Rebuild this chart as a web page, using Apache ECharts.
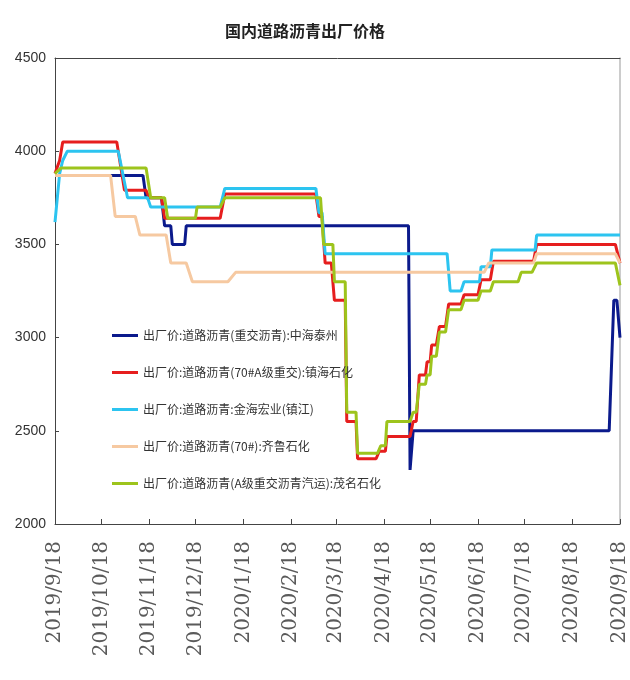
<!DOCTYPE html>
<html>
<head>
<meta charset="utf-8">
<script src="https://cdn.jsdelivr.net/npm/echarts@6/dist/echarts.min.js"></script>
<style>
  html, body { margin: 0; padding: 0; background: #ffffff; }
  #chart { width: 630px; height: 680px; }
</style>
</head>
<body>
<div id="chart"></div>
<script>
// Monthly tick dates on the date axis
const tickDates = [
  '2019-09-18', '2019-10-18', '2019-11-18', '2019-12-18', '2020-01-18',
  '2020-02-18', '2020-03-18', '2020-04-18', '2020-05-18', '2020-06-18',
  '2020-07-18', '2020-08-18', '2020-09-18'
];

const yTicks = [2000, 2500, 3000, 3500, 4000, 4500];

const seriesNames = [
  '出厂价:道路沥青(重交沥青):中海泰州',
  '出厂价:道路沥青(70#A级重交):镇海石化',
  '出厂价:道路沥青:金海宏业(镇江)',
  '出厂价:道路沥青(70#):齐鲁石化',
  '出厂价:道路沥青(A级重交沥青汽运):茂名石化'
];

// Ex-factory prices, yuan/ton: [date, price] at each price change
const zhonghaiTaizhou = [
  ['2019-09-18', 3870], ['2019-11-14', 3870], ['2019-11-16', 3750], ['2019-11-26', 3750],
  ['2019-11-28', 3600], ['2019-12-02', 3600], ['2019-12-03', 3500], ['2019-12-11', 3500],
  ['2019-12-12', 3600], ['2020-05-04', 3600], ['2020-05-05', 2290], ['2020-05-07', 2500],
  ['2020-09-11', 2500], ['2020-09-14', 3200], ['2020-09-16', 3200], ['2020-09-18', 3000]
];

const zhenhaiShihua = [
  ['2019-09-18', 3880], ['2019-09-21', 3950], ['2019-09-23', 4050], ['2019-10-28', 4050],
  ['2019-11-02', 3790], ['2019-11-16', 3790], ['2019-11-18', 3750], ['2019-11-26', 3750],
  ['2019-11-28', 3640], ['2020-01-03', 3640], ['2020-01-06', 3770], ['2020-03-05', 3770],
  ['2020-03-07', 3650], ['2020-03-09', 3650], ['2020-03-11', 3400], ['2020-03-15', 3400],
  ['2020-03-17', 3200], ['2020-03-24', 3200], ['2020-03-25', 2550], ['2020-03-31', 2550],
  ['2020-04-01', 2350], ['2020-04-13', 2350], ['2020-04-15', 2390], ['2020-04-19', 2390],
  ['2020-04-20', 2470], ['2020-05-05', 2470], ['2020-05-07', 2550], ['2020-05-09', 2550],
  ['2020-05-11', 2800], ['2020-05-15', 2800], ['2020-05-16', 2870], ['2020-05-18', 2870],
  ['2020-05-19', 2960], ['2020-05-22', 2960], ['2020-05-24', 3060], ['2020-05-28', 3060],
  ['2020-05-30', 3180], ['2020-06-07', 3180], ['2020-06-09', 3230], ['2020-06-18', 3230],
  ['2020-06-20', 3310], ['2020-06-26', 3310], ['2020-06-28', 3410], ['2020-07-24', 3410],
  ['2020-07-26', 3500], ['2020-09-15', 3500], ['2020-09-18', 3400]
];

const jinhaiHongye = [
  ['2019-09-18', 3620], ['2019-09-21', 3880], ['2019-09-23', 3950], ['2019-09-26', 4000],
  ['2019-10-29', 4000], ['2019-11-04', 3750], ['2019-11-17', 3750], ['2019-11-19', 3700],
  ['2020-01-03', 3700], ['2020-01-06', 3800], ['2020-03-05', 3800], ['2020-03-07', 3670],
  ['2020-03-09', 3670], ['2020-03-11', 3450], ['2020-05-29', 3450], ['2020-05-31', 3250],
  ['2020-06-07', 3250], ['2020-06-09', 3300], ['2020-06-19', 3300], ['2020-06-20', 3380],
  ['2020-06-26', 3380], ['2020-06-27', 3470], ['2020-07-25', 3470], ['2020-07-26', 3550],
  ['2020-09-18', 3550]
];

const qiluShihua = [
  ['2019-09-18', 3870], ['2019-10-24', 3870], ['2019-10-27', 3650], ['2019-11-09', 3650],
  ['2019-11-12', 3550], ['2019-11-29', 3550], ['2019-12-02', 3400], ['2019-12-12', 3400],
  ['2019-12-16', 3300], ['2020-01-08', 3300], ['2020-01-13', 3350], ['2020-06-22', 3350],
  ['2020-06-25', 3400], ['2020-07-24', 3400], ['2020-07-26', 3450], ['2020-09-15', 3450],
  ['2020-09-18', 3400]
];

const maomingShihua = [
  ['2019-09-18', 3880], ['2019-09-22', 3910], ['2019-11-16', 3910], ['2019-11-19', 3750],
  ['2019-11-28', 3750], ['2019-11-30', 3640], ['2019-12-18', 3640], ['2019-12-19', 3700],
  ['2020-01-03', 3700], ['2020-01-06', 3750], ['2020-03-08', 3750], ['2020-03-10', 3500],
  ['2020-03-16', 3500], ['2020-03-17', 3300], ['2020-03-24', 3300], ['2020-03-25', 2600],
  ['2020-03-31', 2600], ['2020-04-01', 2380], ['2020-04-14', 2380], ['2020-04-16', 2420],
  ['2020-04-19', 2420], ['2020-04-20', 2550], ['2020-05-05', 2550], ['2020-05-07', 2600],
  ['2020-05-09', 2600], ['2020-05-11', 2750], ['2020-05-15', 2750], ['2020-05-16', 2800],
  ['2020-05-18', 2800], ['2020-05-19', 2900], ['2020-05-22', 2900], ['2020-05-24', 3030],
  ['2020-05-28', 3030], ['2020-05-30', 3150], ['2020-06-07', 3150], ['2020-06-09', 3200],
  ['2020-06-18', 3200], ['2020-06-20', 3250], ['2020-06-26', 3250], ['2020-06-28', 3300],
  ['2020-07-14', 3300], ['2020-07-16', 3350], ['2020-07-23', 3350], ['2020-07-26', 3400],
  ['2020-09-15', 3400], ['2020-09-18', 3280]
];

const seriesData = [zhonghaiTaizhou, zhenhaiShihua, jinhaiHongye, qiluShihua, maomingShihua];
const seriesColors = ['#0b1a8c', '#e61e1e', '#2cc4f0', '#f6c9a1', '#9dc41c'];

// Dates become timestamps on a numeric axis
const ts = s => +echarts.time.parse(s);
const tickValues = tickDates.map(ts);
const xMin = tickValues[0];
const xMax = tickValues[tickValues.length - 1];

const chart = echarts.init(document.getElementById('chart'), null, { renderer: 'canvas' });

chart.setOption({
  backgroundColor: '#ffffff',
  animation: false,
  title: {
    text: '国内道路沥青出厂价格',
    left: 220,
    top: 18,
    textStyle: {
      fontFamily: '"Noto Sans CJK SC"',
      fontSize: 16,
      fontWeight: 'bold',
      color: '#222'
    }
  },
  legend: {
    orient: 'vertical',
    left: 112,
    top: 327,
    padding: 0,
    icon: 'rect',
    itemWidth: 26,
    itemHeight: 3,
    itemGap: 20,
    data: seriesNames,
    textStyle: {
      fontFamily: '"Noto Sans CJK SC"',
      fontSize: 12,
      lineHeight: 17,
      color: '#333'
    }
  },
  grid: {
    left: 55,
    right: 10,
    top: 58,
    bottom: 156,
    containLabel: false
  },
  xAxis: [
    {
      type: 'value',
      min: xMin,
      max: xMax,
      axisLine: { show: true, lineStyle: { color: '#444', width: 1 } },
      axisTick: {
        show: true,
        inside: true,
        length: 5,
        customValues: tickValues,
        lineStyle: { color: '#444' }
      },
      axisLabel: {
        show: true,
        customValues: tickValues,
        rotate: 90,
        margin: 17,
        fontFamily: '"DejaVu Serif"',
        fontSize: 20,
        color: '#5a5a5a',
        formatter: v => echarts.time.format(v, '{yyyy}/{M}/{d}', false)
      },
      splitLine: { show: false }
    },
    {
      type: 'value',
      position: 'top',
      min: xMin,
      max: xMax,
      axisLine: { show: true, lineStyle: { color: '#444', width: 1 } },
      axisTick: { show: false },
      axisLabel: { show: false },
      splitLine: { show: false }
    }
  ],
  yAxis: [
    {
      type: 'value',
      min: yTicks[0],
      max: yTicks[yTicks.length - 1],
      interval: 500,
      axisLine: { show: true, lineStyle: { color: '#444', width: 1 } },
      axisTick: { show: true, inside: true, length: 4, lineStyle: { color: '#444' } },
      axisLabel: {
        margin: 9,
        fontFamily: '"Liberation Sans Narrow", "Liberation Sans"',
        fontSize: 14,
        color: '#333',
        padding: [4, 0, 0, 0],
        formatter: v => String(v)
      },
      splitLine: { show: false }
    },
    {
      type: 'value',
      position: 'right',
      min: yTicks[0],
      max: yTicks[yTicks.length - 1],
      interval: 500,
      axisLine: { show: true, lineStyle: { color: '#bbbbbb', width: 1.5 } },
      axisTick: { show: false },
      axisLabel: { show: false },
      splitLine: { show: false }
    }
  ],
  series: seriesNames.map((name, i) => ({
    name: name,
    type: 'line',
    xAxisIndex: 0,
    yAxisIndex: 0,
    data: seriesData[i].map(p => [ts(p[0]), p[1]]),
    symbol: 'none',
    showSymbol: false,
    color: seriesColors[i],
    lineStyle: { width: 3, color: seriesColors[i] },
    emphasis: { disabled: true }
  }))
});
</script>
</body>
</html>
